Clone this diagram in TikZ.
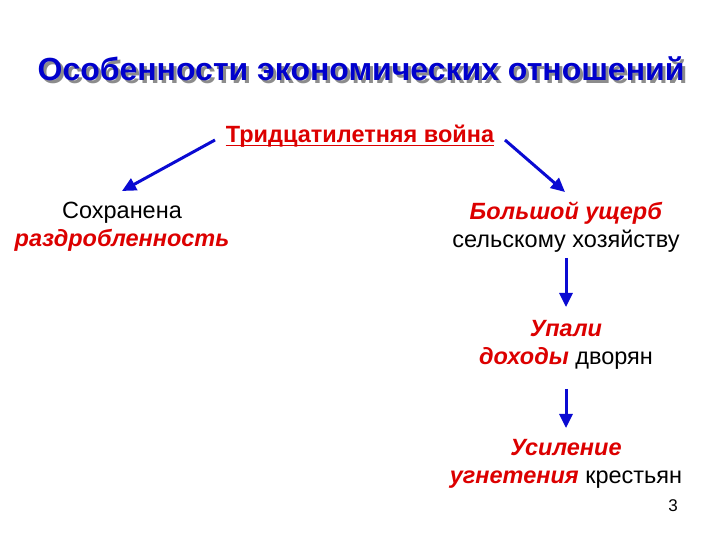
\documentclass[tikz,border=0pt]{standalone}
\usepackage{fontspec}
\setmainfont{Liberation Sans}
\usetikzlibrary{arrows.meta}
\definecolor{ttlblue}{RGB}{0,0,204}
\definecolor{arblue}{RGB}{10,10,210}
\definecolor{txtred}{RGB}{220,0,0}
\tikzset{
  x=1pt,y=1pt,
  lbl/.style={font=\fontsize{23.5}{28}\selectfont, inner sep=0pt, align=center},
  conn/.style={draw=arblue, line width=3pt, -{Triangle[length=14pt,width=13pt]}},
}
\newcommand{\rb}[1]{\textcolor{txtred}{\textbf{\textit{#1}}}}
\newcommand{\ttltext}{Особенности экономических отношений}
\begin{document}
\begin{tikzpicture}
\useasboundingbox (0,0) rectangle (720,540);
% title with shadow (in one node)
\node[font=\fontsize{32}{36}\selectfont\bfseries, inner sep=0pt] (title) at (361,470)
  {\rlap{\raisebox{-3pt}{\hspace{3pt}\textcolor{black!45}{\ttltext}}}\textcolor{ttlblue}{\ttltext}};
% war
\node[lbl, text=txtred, font=\fontsize{23.5}{28}\selectfont\bfseries, anchor=base] (war) at (360,397) {Тридцатилетняя война};
\draw[txtred, line width=1.5pt] ([yshift=-2.5pt]war.base west) -- ([yshift=-2.5pt]war.base east);
% left
\node[lbl] (left) at (122,313) {Сохранена\\\rb{раздробленность}};
% right chain
\node[lbl] (damage) at (566,313) {\rb{Большой ущерб}\\сельскому хозяйству};
\node[lbl] (income) at (566,195) {\rb{Упали}\\\rb{доходы} дворян};
\node[lbl] (oppr) at (566,76) {\rb{Усиление}\\\rb{угнетения} крестьян};
\node[font=\fontsize{17}{20}\selectfont, inner sep=0pt] (pnum) at (673,34) {3};
% arrows
\coordinate (wl) at (215,400);
\coordinate (wlt) at (122,349);
\coordinate (wr) at (505,400);
\coordinate (wrt) at (565,348);
\coordinate (d1) at (566,282);
\coordinate (d1t) at (566,233);
\coordinate (d2) at (566,151);
\coordinate (d2t) at (566,112);
\draw[conn] (wl) -- (wlt);
\draw[conn] (wr) -- (wrt);
\draw[conn] (d1) -- (d1t);
\draw[conn] (d2) -- (d2t);
\end{tikzpicture}
\end{document}
